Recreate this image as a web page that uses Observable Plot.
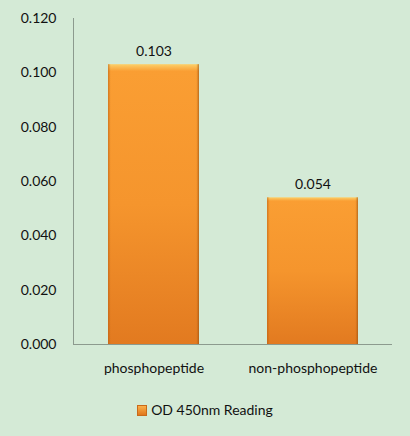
<!DOCTYPE html>
<html>
<head>
<meta charset="utf-8">
<script src="https://cdn.jsdelivr.net/npm/d3@7"></script>
<script src="https://cdn.jsdelivr.net/npm/@observablehq/plot@0.6"></script>
<style>
  html, body { margin: 0; padding: 0; background: #d4ead6; }
  body { width: 410px; height: 436px; overflow: hidden; font-family: Lato, "Open Sans", sans-serif; }
  #legend { position: absolute; left: 0; top: 401px; width: 410px; text-align: center; font-size: 14px; color: #111; }
  #legend .sw { display: inline-block; width: 8px; height: 9px; background: linear-gradient(#fbb04a, #e0761c); border: 1px solid #c96a1a; vertical-align: -1px; margin-right: 4px; }
</style>
</head>
<body>
<div id="chart"></div>
<div id="legend"><span class="sw"></span>OD 450nm Reading</div>
<script>
const categories = ["phosphopeptide", "non-phosphopeptide"];
const values = [0.103, 0.054];
const yTicks = [0, 0.02, 0.04, 0.06, 0.08, 0.10, 0.12];
const seriesName = "OD 450nm Reading";

const data = categories.map((c, i) => ({category: c, value: values[i]}));

const plot = Plot.plot({
  width: 410,
  height: 385,
  marginTop: 18,
  marginBottom: 41,
  marginLeft: 73,
  marginRight: 18,
  style: {background: "transparent", fontFamily: "Lato, 'Open Sans', sans-serif", fontSize: "14px", color: "#111"},
  x: {domain: categories, paddingInner: 0.43, paddingOuter: 0.215, label: null},
  y: {domain: [0, 0.12], label: null},
  marks: [
    Plot.barY(data, {x: "category", y: "value", fill: "url(#vgrad)"}),
    Plot.barY(data, {x: "category", y: "value", fill: "url(#hgrad)"}),
    Plot.frame({anchor: "left", stroke: "#8c9a8e"}),
    Plot.ruleY([0], {stroke: "#8c9a8e"}),
    Plot.axisY({ticks: yTicks, tickSize: 0, tickPadding: 17, tickFormat: d3.format(".3f"), label: null, fontSize: 14}),
    Plot.axisX({tickSize: 0, tickPadding: 19, label: null, fontSize: 14}),
    Plot.text(data, {x: "category", y: "value", text: d => d3.format(".3f")(d.value), dy: -13, fontSize: 14, fill: "#111"})
  ]
});

const ns = "http://www.w3.org/2000/svg";
const defs = document.createElementNS(ns, "defs");
defs.innerHTML = `
  <linearGradient id="vgrad" x1="0" y1="0" x2="0" y2="1">
    <stop offset="0" stop-color="#fcd06a"/>
    <stop offset="0.025" stop-color="#fa9e33"/>
    <stop offset="0.5" stop-color="#f5952d"/>
    <stop offset="1" stop-color="#e27a20"/>
  </linearGradient>
  <linearGradient id="hgrad" x1="0" y1="0" x2="1" y2="0">
    <stop offset="0" stop-color="#b35a10" stop-opacity="0.55"/>
    <stop offset="0.03" stop-color="#b35a10" stop-opacity="0"/>
    <stop offset="0.97" stop-color="#b35a10" stop-opacity="0"/>
    <stop offset="1" stop-color="#8a4a10" stop-opacity="0.6"/>
  </linearGradient>`;
plot.insertBefore(defs, plot.firstChild);
document.getElementById("chart").appendChild(plot);
</script>
</body>
</html>
